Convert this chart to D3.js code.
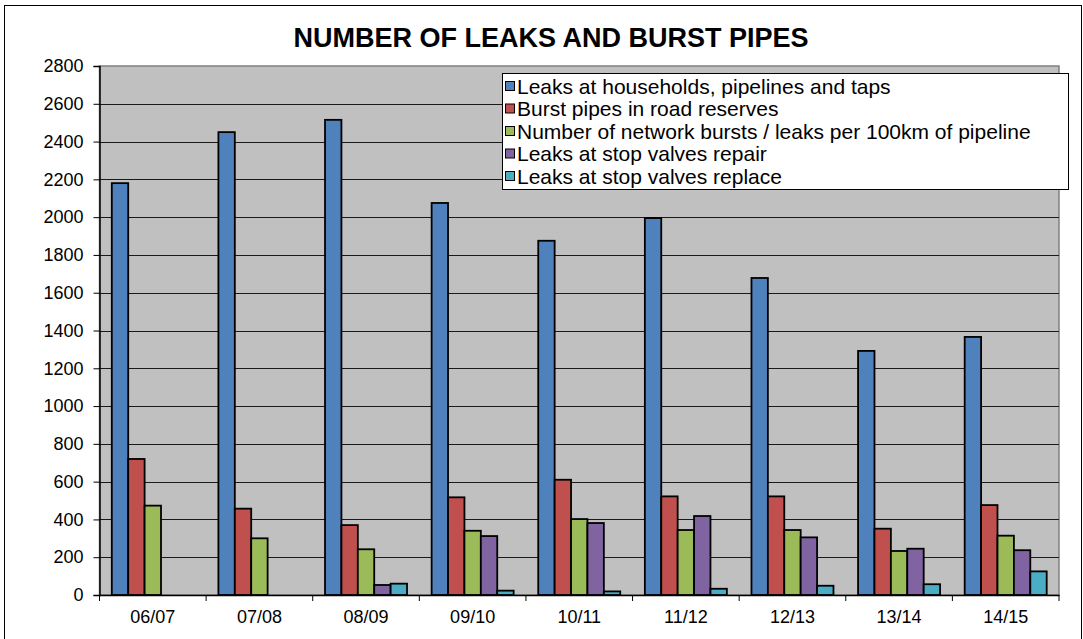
<!DOCTYPE html>
<html>
<head>
<meta charset="utf-8">
<script src="https://cdn.jsdelivr.net/npm/d3@7"></script>
<style>
  body { margin: 0; background: #fff; }
  svg { font-family: "Liberation Sans", Arial, sans-serif; }
</style>
</head>
<body>
<div id="chart"></div>
<script>
var years = ["06/07", "07/08", "08/09", "09/10", "10/11", "11/12", "12/13", "13/14", "14/15"];
var leaksHouseholds = [2180, 2450, 2515, 2075, 1875, 1995, 1678, 1292, 1366];
var burstPipes = [720, 457, 370, 517, 610, 522, 522, 351, 476];
var networkBursts = [473, 300, 242, 340, 402, 344, 344, 233, 314];
var stopRepair = [null, null, 53, 312, 381, 418, 305, 245, 237];
var stopReplace = [null, null, 60, 23, 19, 33, 49, 57, 125];
var seriesNames = [
    "Leaks at households, pipelines and taps",
    "Burst pipes in road reserves",
    "Number of network bursts / leaks per 100km of pipeline",
    "Leaks at stop valves repair",
    "Leaks at stop valves replace"
];
var seriesColors = ["#4F81BD", "#C0504D", "#9BBB59", "#8064A2", "#4BACC6"];
var yTicks = d3.range(0, 2801, 200);

var W = 1083, H = 639;
var plot = { left: 99.5, right: 1059, top: 66, bottom: 595 };

var svg = d3.select("#chart").append("svg")
    .attr("width", W)
    .attr("height", H);

// outer chart border
svg.append("rect")
    .attr("x", 4.5).attr("y", 5.5)
    .attr("width", 1077).attr("height", 640)
    .attr("fill", "#fff")
    .attr("stroke", "#000")
    .attr("stroke-width", 1);

svg.append("text")
    .attr("x", 551).attr("y", 47)
    .attr("text-anchor", "middle")
    .style("font-size", "27px")
    .style("font-weight", "bold")
    .text("NUMBER OF LEAKS AND BURST PIPES");

var x0 = d3.scaleBand()
    .domain(years)
    .range([plot.left, plot.right])
    .padding(0);

var x1 = d3.scaleBand()
    .domain(d3.range(seriesNames.length))
    .range([0, x0.bandwidth()])
    .paddingInner(0)
    .paddingOuter(0.75);

var y = d3.scaleLinear()
    .domain([0, 2800])
    .range([plot.bottom, plot.top]);

// plot area
svg.append("rect")
    .attr("x", plot.left).attr("y", plot.top)
    .attr("width", plot.right - plot.left)
    .attr("height", plot.bottom - plot.top)
    .attr("fill", "#C0C0C0")
    .attr("stroke", "#808080")
    .attr("stroke-width", 1.5);

// gridlines
svg.append("g")
    .selectAll("line")
    .data(yTicks.filter(function (d) { return d > 0 && d < 2800; }))
    .enter()
    .append("line")
    .attr("x1", plot.left).attr("x2", plot.right)
    .attr("y1", function (d) { return Math.round(y(d)) + 0.5; })
    .attr("y2", function (d) { return Math.round(y(d)) + 0.5; })
    .attr("stroke", "#1a1a1a")
    .attr("stroke-width", 1);

var allSeries = [leaksHouseholds, burstPipes, networkBursts, stopRepair, stopReplace];
var barData = [];
years.forEach(function (yr, i) {
    allSeries.forEach(function (s, k) {
        if (s[i] != null) barData.push({ year: yr, k: k, value: s[i] });
    });
});

svg.append("g")
    .selectAll("rect")
    .data(barData)
    .enter()
    .append("rect")
    .attr("x", function (d) { return x0(d.year) + x1(d.k); })
    .attr("y", function (d) { return y(d.value); })
    .attr("width", x1.bandwidth())
    .attr("height", function (d) { return y(0) - y(d.value); })
    .attr("fill", function (d) { return seriesColors[d.k]; })
    .attr("stroke", "#000")
    .attr("stroke-width", 1.8);

// y axis
var yAxis = svg.append("g")
    .attr("transform", "translate(" + plot.left + ",0)")
    .call(d3.axisLeft(y).tickValues(yTicks).tickSize(6).tickPadding(10).tickFormat(d3.format("d")));
yAxis.select(".domain").attr("stroke", "#000").attr("stroke-width", 1.5);
yAxis.selectAll("text").style("font-size", "18px").attr("fill", "#000");

// x axis
var xAxis = svg.append("g")
    .attr("transform", "translate(0," + plot.bottom + ")")
    .call(d3.axisBottom(x0).tickSize(0).tickPadding(15));
xAxis.select(".domain").attr("stroke", "#000").attr("stroke-width", 1.5);
xAxis.selectAll("text").style("font-size", "18px").attr("fill", "#000");

var bounds = years.map(function (d) { return x0(d); }).concat([plot.right]);
xAxis.selectAll(".bound")
    .data(bounds)
    .enter()
    .append("line")
    .attr("class", "bound")
    .attr("x1", function (d) { return d; }).attr("x2", function (d) { return d; })
    .attr("y1", 0).attr("y2", 6)
    .attr("stroke", "#000");

// legend
var lg = { x: 502, y: 73, w: 566, h: 116, row: 22.5 };
var legend = svg.append("g");
legend.append("rect")
    .attr("x", lg.x + 0.5).attr("y", lg.y + 0.5)
    .attr("width", lg.w).attr("height", lg.h)
    .attr("fill", "#fff")
    .attr("stroke", "#000");

var items = legend.selectAll(".item")
    .data(seriesNames)
    .enter()
    .append("g")
    .attr("class", "item")
    .attr("transform", function (d, i) { return "translate(" + (lg.x + 3) + "," + (lg.y + 13 + i * lg.row) + ")"; });

items.append("rect")
    .attr("x", 0.5).attr("y", -4.5)
    .attr("width", 9).attr("height", 9)
    .attr("fill", function (d, i) { return seriesColors[i]; })
    .attr("stroke", "#000");

items.append("text")
    .attr("x", 12)
    .attr("y", 7.5)
    .style("font-size", "21px")
    .text(function (d) { return d; });
</script>
</body>
</html>
